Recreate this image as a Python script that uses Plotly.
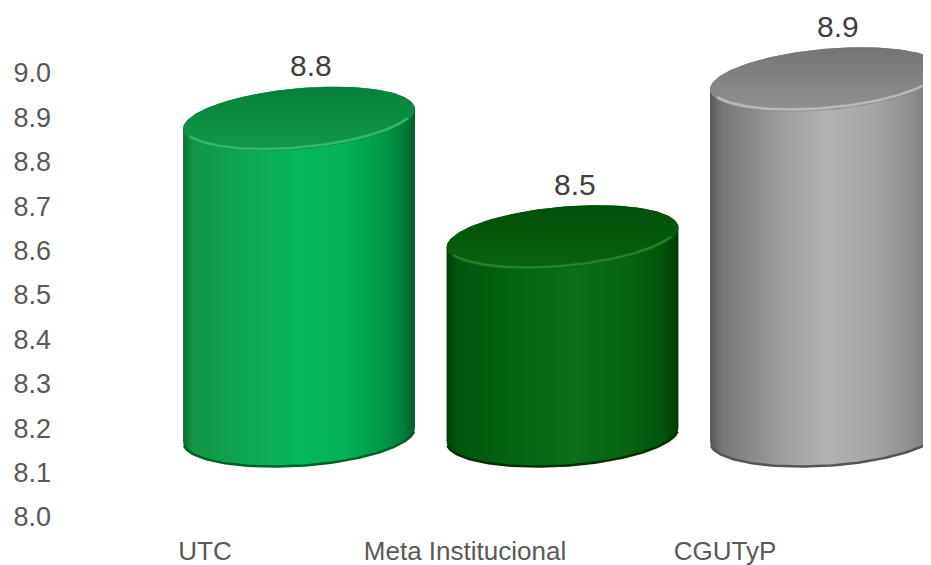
import numpy as np
import plotly.graph_objects as go

# Datos
CATEGORIES = ["UTC", "Meta Institucional", "CGUTyP"]
VALUES = [8.8, 8.5, 8.9]
Y_TICKS = [8.0, 8.1, 8.2, 8.3, 8.4, 8.5, 8.6, 8.7, 8.8, 8.9, 9.0]
Y_TICK_LABELS = ["8.0", "8.1", "8.2", "8.3", "8.4", "8.5", "8.6", "8.7", "8.8", "8.9", "9.0"]
BASE = 8.0

FONT = "Liberation Sans, Arial, sans-serif"

# Colores por cilindro: cuerpo (gradiente horizontal), tapa, borde claro, sombra inferior
BODY_SCALES = [
    [[0, "#0a6e33"], [0.04, "#129548"], [0.25, "#10a552"], [0.5, "#04b85c"],
     [0.68, "#03b35a"], [0.86, "#019a49"], [0.95, "#017f3a"], [1, "#005a27"]],
    [[0, "#003f08"], [0.05, "#00560d"], [0.3, "#036512"], [0.55, "#0a6f15"],
     [0.8, "#056311"], [0.94, "#00520c"], [1, "#003a07"]],
    [[0, "#575757"], [0.05, "#767676"], [0.3, "#9c9c9c"], [0.5, "#b2b2b2"],
     [0.7, "#a6a6a6"], [0.88, "#8c8c8c"], [0.96, "#727272"], [1, "#5a5a5a"]],
]
TOP_SCALES = [
    [[0, "#13994c"], [1, "#06803c"]],
    [[0, "#08640f"], [1, "#004f09"]],
    [[0, "#929292"], [1, "#747474"]],
]
RIM_COLORS = ["#3cc070", "#2a8a32", "#c4c4c4"]
SHADOW_COLORS = ["#00602a", "#002e05", "#555555"]

# Geometría del cilindro (unidades de los ejes x2 / y2)
HALF_W = 0.44
HALF_H = 0.078
TILT_TOP = 0.025
TILT_BOTTOM = 0.018
LABEL_OFFSET = 0.135


def ellipse(cx, cy, tilt, t):
    return cx + HALF_W * np.cos(t), cy + HALF_H * np.sin(t) + tilt * np.cos(t)


fig = go.Figure()

# Traza invisible para fijar el subplot principal (etiquetas de ejes)
fig.add_trace(go.Scatter(
    x=list(range(len(CATEGORIES))), y=VALUES, mode="markers",
    marker=dict(opacity=0), hoverinfo="skip", showlegend=False,
))

for i, (cat, val) in enumerate(zip(CATEGORIES, VALUES)):
    t_back = np.linspace(np.pi, 0, 120)
    t_front = np.linspace(0, -np.pi, 120)
    t_full = np.linspace(0, 2 * np.pi, 240)

    bx1, by1 = ellipse(i, val, TILT_TOP, t_back)
    bx2, by2 = ellipse(i, BASE, TILT_BOTTOM, t_front)
    body_x = np.concatenate([bx1, bx2, bx1[:1]])
    body_y = np.concatenate([by1, by2, by1[:1]])

    fig.add_trace(go.Scatter(
        x=body_x, y=body_y, xaxis="x2", yaxis="y2",
        mode="lines", fill="toself", line=dict(width=0),
        fillgradient=dict(type="horizontal", colorscale=BODY_SCALES[i]),
        name=cat, showlegend=False,
        hovertemplate=f"<b>{cat}</b><br>{val:.1f}<extra></extra>",
        hoveron="fills",
    ))

    # Sombra del borde inferior
    sx, sy = ellipse(i, BASE, TILT_BOTTOM, np.linspace(-0.12, -np.pi + 0.12, 100))
    fig.add_trace(go.Scatter(
        x=sx, y=sy, xaxis="x2", yaxis="y2", mode="lines",
        line=dict(width=2.5, color=SHADOW_COLORS[i]),
        hoverinfo="skip", showlegend=False,
    ))

    # Tapa superior
    tx, ty = ellipse(i, val, TILT_TOP, t_full)
    fig.add_trace(go.Scatter(
        x=tx, y=ty, xaxis="x2", yaxis="y2",
        mode="lines", fill="toself", line=dict(width=0),
        fillgradient=dict(type="vertical", colorscale=TOP_SCALES[i]),
        hoverinfo="skip", showlegend=False,
    ))

    # Borde claro (bisel) al frente de la tapa
    rx, ry = ellipse(i, val + 0.006, TILT_TOP, np.linspace(-0.35, -np.pi + 0.35, 100))
    fig.add_trace(go.Scatter(
        x=rx, y=ry, xaxis="x2", yaxis="y2", mode="lines",
        line=dict(width=2.5, color=RIM_COLORS[i]),
        opacity=0.8, hoverinfo="skip", showlegend=False,
    ))

    fig.add_annotation(
        x=i, y=val + LABEL_OFFSET, xref="x2", yref="y2",
        text=f"{val:.1f}", showarrow=False, xshift=12, borderpad=0,
        font=dict(size=30, color="#404040", family=FONT),
    )

# La página añade 8 px de margen al body: la figura se reduce en esa medida
fig.update_layout(
    width=923,
    height=557,
    margin=dict(l=44, r=0, t=0, b=32),
    paper_bgcolor="white",
    plot_bgcolor="white",
    showlegend=False,
    hovermode="closest",
    font=dict(family=FONT, color="#595959"),
    xaxis=dict(
        range=[-0.58846, 2.79231],
        tickvals=list(range(len(CATEGORIES))),
        ticktext=CATEGORIES,
        showgrid=False, zeroline=False, showline=False, ticks="",
        tickfont=dict(size=26, color="#595959", family=FONT),
        automargin=False, fixedrange=True,
    ),
    yaxis=dict(
        range=[7.96396, 9.14640],
        tickvals=Y_TICKS,
        ticktext=Y_TICK_LABELS,
        showgrid=False, zeroline=False, showline=False, ticks="",
        tickfont=dict(size=27, color="#595959", family=FONT),
        automargin=False, fixedrange=True,
    ),
    xaxis2=dict(range=[-0.93738, 2.39848], overlaying="x", visible=False, fixedrange=True),
    yaxis2=dict(range=[7.7519, 9.08101], overlaying="y", visible=False, fixedrange=True),
)

fig.write_html("out.html")
